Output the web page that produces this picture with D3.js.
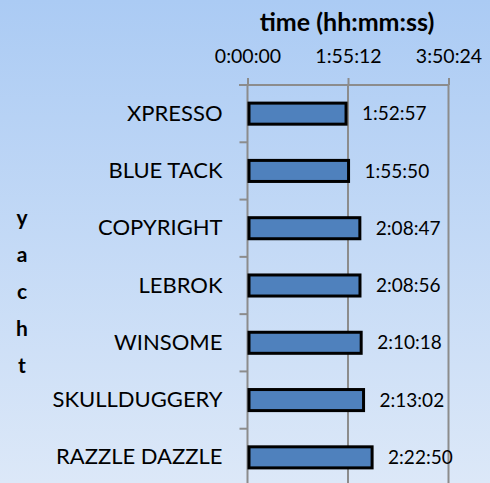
<!DOCTYPE html>
<html><head><meta charset="utf-8">
<script src="https://cdn.jsdelivr.net/npm/d3@7"></script>
<style>html,body{margin:0;padding:0;overflow:hidden;}svg{display:block;}</style>
</head><body>
<svg id="c" width="490" height="483"></svg>
<script>
const yachts = ["XPRESSO","BLUE TACK","COPYRIGHT","LEBROK","WINSOME","SKULLDUGGERY","RAZZLE DAZZLE"];
const times = ["1:52:57","1:55:50","2:08:47","2:08:56","2:10:18","2:13:02","2:22:50"];
const tickLabels = ["0:00:00","1:55:12","3:50:24"];
const axisTitle = "time (hh:mm:ss)";
const yTitle = "yacht";

const toSec = s => { const p = s.split(":").map(Number); return p[0]*3600+p[1]*60+p[2]; };
const tickVals = tickLabels.map(toSec);

const svg = d3.select("#c");
const W = 490, H = 483;
const defs = svg.append("defs");
const g = defs.append("linearGradient").attr("id","bg").attr("x1",0).attr("y1",0).attr("x2",0).attr("y2",1);
g.append("stop").attr("offset","0%").attr("stop-color","#abcbf4");
g.append("stop").attr("offset","100%").attr("stop-color","#dce8f8");
svg.append("rect").attr("width",W).attr("height",H).attr("fill","url(#bg)");

const font = "Lato, 'Open Sans', sans-serif";
const x = d3.scaleLinear().domain([0, tickVals[2]]).range([247.5, 448.5]);
const y = d3.scaleBand().domain(yachts).range([85, 486]).paddingInner(0.58).paddingOuter(0.29);
const y0 = 85, y1 = 486;

// gridlines
svg.append("g").selectAll("line").data(tickVals.slice(1)).join("line")
  .attr("x1",d=>x(d)).attr("x2",d=>x(d)).attr("y1",y0).attr("y2",y1)
  .attr("stroke","#8c8c8c").attr("stroke-width",2);

// top axis
const ax = svg.append("g").attr("transform",`translate(0,${y0})`)
  .call(d3.axisTop(x).tickValues(tickVals).tickFormat((d,i)=>tickLabels[i]).tickSize(7).tickSizeOuter(0).tickPadding(15));
ax.select(".domain").remove();
ax.append("line").attr("x1",239).attr("x2",x(tickVals[2])).attr("y1",0).attr("y2",0).attr("stroke","#8c8c8c").attr("stroke-width",2);
ax.selectAll(".tick line").attr("stroke","#8c8c8c").attr("stroke-width",2);
ax.selectAll(".tick text").attr("fill","#000").attr("font-size",19.5).attr("font-family",font);

// left axis
const la = svg.append("g").attr("transform",`translate(${x(0)},0)`)
  .call(d3.axisLeft(y).tickSize(0).tickPadding(25));
la.select(".domain").attr("stroke","#8c8c8c").attr("stroke-width",2).attr("d",`M0,${y0}V${y1}`);
la.selectAll(".tick text").attr("fill","#000").attr("font-size",22).attr("font-family",font);
// category boundary ticks
svg.append("g").selectAll("line").data(d3.range(1, yachts.length)).join("line")
  .attr("x1",x(0)-8).attr("x2",x(0)).attr("y1",i=>y0+i*(y1-y0)/yachts.length).attr("y2",i=>y0+i*(y1-y0)/yachts.length)
  .attr("stroke","#8c8c8c").attr("stroke-width",2);

// bars
svg.append("g").selectAll("rect").data(yachts).join("rect")
  .attr("x",x(0)+1.5).attr("y",d=>y(d)+1.5)
  .attr("width",(d,i)=>x(toSec(times[i]))-x(0)-1.5).attr("height",y.bandwidth()-3)
  .attr("fill","#4f81bd").attr("stroke","#000").attr("stroke-width",3);

// value labels
svg.append("g").selectAll("text").data(yachts).join("text")
  .attr("x",(d,i)=>x(toSec(times[i]))+16).attr("y",d=>y(d)+y.bandwidth()/2)
  .attr("dy","0.35em").attr("font-size",19).attr("font-family",font).attr("fill","#000")
  .text((d,i)=>times[i]);

// titles
svg.append("text").attr("x",347).attr("y",31).attr("text-anchor","middle")
  .attr("font-size",25).attr("font-weight","bold").attr("font-family",font).text(axisTitle);
svg.append("g").selectAll("text").data(yTitle.split("")).join("text")
  .attr("x",22).attr("y",(d,i)=>218+i*37).attr("dy","0.35em").attr("text-anchor","middle")
  .attr("font-size",21).attr("font-weight","bold").attr("font-family",font).text(d=>d);
</script>
</body></html>
